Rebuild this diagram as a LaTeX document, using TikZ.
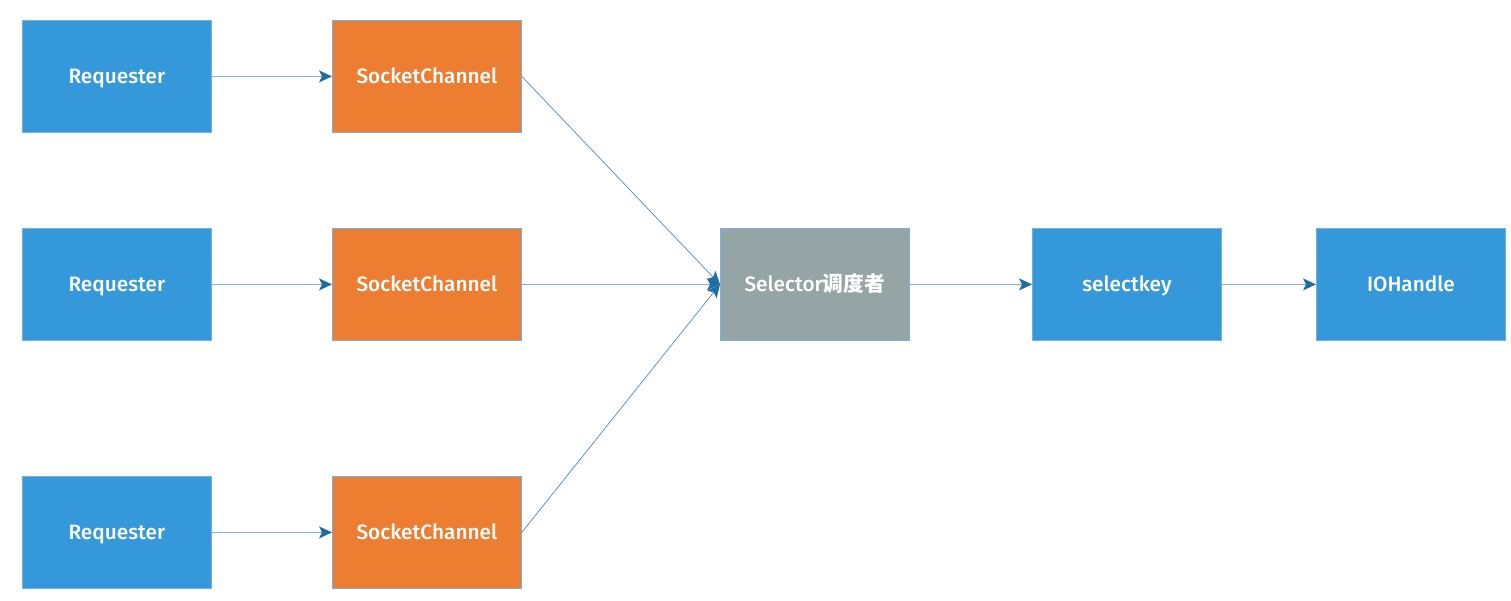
\documentclass[tikz,border=0pt]{standalone}
\usepackage{fontspec}
\setmainfont{Fira Sans}[BoldFont={Fira Sans Medium}]
\newfontfamily\cjk{Noto Sans CJK SC}
\usetikzlibrary{arrows.meta}
\definecolor{bblue}{RGB}{52,152,219}
\definecolor{borange}{RGB}{237,125,49}
\definecolor{bgray}{RGB}{149,165,166}
\definecolor{edgeb}{RGB}{120,175,225}
\definecolor{lineb}{RGB}{130,175,205}
\definecolor{headb}{RGB}{30,110,165}
\tikzset{
  box/.style={draw=edgeb, line width=0.8pt, minimum width=189pt, minimum height=112pt, inner sep=0pt, text height=14.5pt, text depth=0pt, text=white, font=\fontsize{20.8}{23}\selectfont\bfseries, anchor=north west},
  bluebox/.style={box, fill=bblue},
  orbox/.style={box, fill=borange},
  graybox/.style={box, fill=bgray},
  conn/.style={draw=lineb, line width=1pt, -{Stealth[length=13pt,width=12pt,inset=3pt,color=headb]}},
  diag/.style={draw=headb!80, line width=0.7pt, -{Stealth[length=13pt,width=12pt,inset=3pt,color=headb]}}
}
\begin{document}
\begin{tikzpicture}[x=1pt,y=-1pt]
\useasboundingbox (0,0) rectangle (1511,601);
\node[bluebox] (r1) at (22,20) {Requester};
\node[bluebox] (r2) at (22,228) {Requester};
\node[bluebox] (r3) at (22,476) {Requester};
\node[orbox] (s1) at (332,20) {SocketChannel};
\node[orbox] (s2) at (332,228) {SocketChannel};
\node[orbox] (s3) at (332,476) {SocketChannel};
\node[graybox] (sel) at (720,228) {Selector{\cjk\bfseries 调度者}};
\node[bluebox] (key) at (1032,228) {selectkey};
\node[bluebox] (io) at (1316,228) {IOHandle};
\draw[conn] (r1.east) -- (s1.west);
\draw[conn] (r2.east) -- (s2.west);
\draw[conn] (r3.east) -- (s3.west);
\draw[diag] (s1.east) -- (sel.west);
\draw[conn] (s2.east) -- (sel.west);
\draw[diag] (s3.east) -- (sel.west);
\draw[conn] (sel.east) -- (key.west);
\draw[conn] (key.east) -- (io.west);
\end{tikzpicture}
\end{document}
